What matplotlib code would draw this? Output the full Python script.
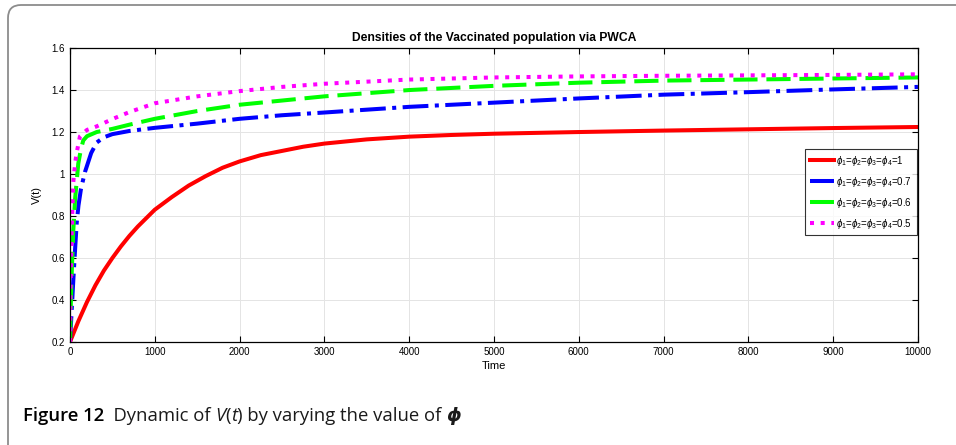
import matplotlib.pyplot as plt
from matplotlib.patches import FancyBboxPatch

# Données
t_red = [0, 100, 200, 300, 400, 500, 600, 700, 800, 900, 1000, 1200, 1400, 1600, 1800, 2000,
         2250, 2500, 2750, 3000, 3500, 4000, 4500, 5000, 6000, 7000, 8000, 9000, 10000]
v_red = [0.2, 0.30, 0.39, 0.47, 0.54, 0.60, 0.655, 0.705, 0.75, 0.79, 0.83, 0.89, 0.945, 0.99, 1.03, 1.06,
         1.09, 1.11, 1.13, 1.145, 1.165, 1.178, 1.186, 1.192, 1.20, 1.207, 1.213, 1.219, 1.224]

t_blue = [0, 20, 40, 60, 80, 100, 130, 177, 250, 315, 400, 500, 700, 1000, 1500, 2000, 2500, 3000,
          4000, 5000, 6000, 7000, 8000, 9000, 10000]
v_blue = [0.2, 0.35, 0.5, 0.64, 0.77, 0.85, 0.93, 1.01, 1.1, 1.15, 1.175, 1.19, 1.205, 1.22, 1.24, 1.263, 1.28, 1.293,
          1.32, 1.34, 1.36, 1.378, 1.39, 1.403, 1.415]

t_green = [0, 10, 20, 39, 60, 98, 130, 157, 200, 315, 500, 700, 1000, 1500, 2000, 2500, 3000,
           4000, 5000, 6000, 7000, 8000, 9000, 10000]
v_green = [0.2, 0.38, 0.52, 0.73, 0.88, 1.05, 1.12, 1.16, 1.18, 1.2, 1.215, 1.235, 1.263, 1.30, 1.33, 1.35, 1.37,
           1.40, 1.42, 1.435, 1.445, 1.45, 1.455, 1.46]

t_mag = [0, 5, 10, 20, 39, 60, 78, 118, 200, 315, 507, 700, 1000, 1500, 2000, 2500, 3000,
         4000, 5000, 6000, 7000, 8000, 9000, 10000]
v_mag = [0.2, 0.42, 0.55, 0.73, 0.96, 1.05, 1.1, 1.18, 1.21, 1.227, 1.263, 1.295, 1.337, 1.37, 1.395, 1.415, 1.43,
         1.45, 1.46, 1.465, 1.468, 1.47, 1.472, 1.475]

labels = [r'$\phi_1$=$\phi_2$=$\phi_3$=$\phi_4$=1',
          r'$\phi_1$=$\phi_2$=$\phi_3$=$\phi_4$=0.7',
          r'$\phi_1$=$\phi_2$=$\phi_3$=$\phi_4$=0.6',
          r'$\phi_1$=$\phi_2$=$\phi_3$=$\phi_4$=0.5']

plt.rcParams['font.family'] = ['Liberation Sans', 'DejaVu Sans']
plt.rcParams['mathtext.fontset'] = 'custom'
plt.rcParams['mathtext.it'] = 'Liberation Sans:italic'
plt.rcParams['mathtext.rm'] = 'Liberation Sans'

fig = plt.figure(figsize=(9.56, 4.45), dpi=100)

# cadre arrondi (coins gauche visibles, le reste sort de l'image)
cadre = FancyBboxPatch((0.08, -0.3), 10.0, 4.70, boxstyle="round,pad=0,rounding_size=0.13",
                       transform=fig.dpi_scale_trans, facecolor='none', edgecolor='#8c8c8c', linewidth=1.3)
fig.patches.append(cadre)

ax = fig.add_axes([0.0732, 0.2315, 0.887, 0.6605])
ax.plot(t_red, v_red, color='red', linewidth=2.9, linestyle='-', label=labels[0])
ax.plot(t_blue, v_blue, color='blue', linewidth=2.9, linestyle='-.', label=labels[1])
ax.plot(t_green, v_green, color='#00ff00', linewidth=2.9, linestyle='--', dashes=(6, 2.2), label=labels[2])
ax.plot(t_mag, v_mag, color='magenta', linewidth=2.9, linestyle=':', label=labels[3])

ax.set_xlim(0, 10000)
ax.set_ylim(0.2, 1.6)
ax.set_xticks(range(0, 10001, 1000))
ax.set_yticks([0.2, 0.4, 0.6, 0.8, 1.0, 1.2, 1.4, 1.6])
ax.set_yticklabels(['0.2', '0.4', '0.6', '0.8', '1', '1.2', '1.4', '1.6'])
ax.grid(True, color='#e4e4e4', linewidth=0.7)
ax.tick_params(direction='in', top=True, right=True, labelsize=7, length=4, width=0.8)
for s in ax.spines.values():
    s.set_linewidth(0.9)

ax.set_xlabel('Time', fontsize=8, labelpad=3)
ax.set_ylabel('V(t)', fontsize=8, labelpad=7)
ax.set_title('Densities of the Vaccinated population via PWCA', fontsize=8.7, fontweight='bold', pad=5)

leg = ax.legend(loc='center right', bbox_to_anchor=(0.9985, 0.51), fontsize=7, frameon=True,
                fancybox=False, edgecolor='black', handlelength=2.5, borderpad=0.45,
                labelspacing=0.72, handletextpad=0.25, borderaxespad=0)
leg.get_frame().set_linewidth(0.8)

# légende de la figure, morceau par morceau
fig.canvas.draw()
rend = fig.canvas.get_renderer()
x = 23
y_base = 0.054
pieces = [('Figure 12', 'semibold', 'normal', 'Open Sans'),
          ('  Dynamic of ', 'normal', 'normal', 'Open Sans'),
          ('V', 'normal', 'italic', 'Open Sans'),
          ('(', 'normal', 'normal', 'Open Sans'),
          ('t', 'normal', 'italic', 'Open Sans'),
          (') by varying the value of ', 'normal', 'normal', 'Open Sans'),
          ('\u03d5', 'bold', 'italic', 'DejaVu Sans')]
for txt, w, st, fam in pieces:
    t = fig.text(x / 956, y_base, txt, fontsize=13.3, fontweight=w, fontstyle=st,
                 family=[fam, 'DejaVu Sans'], color='black' if w == 'semibold' else '#1a1a1a', va='baseline')
    x += t.get_window_extent(rend).width

fig.savefig('out.png', dpi=100)
